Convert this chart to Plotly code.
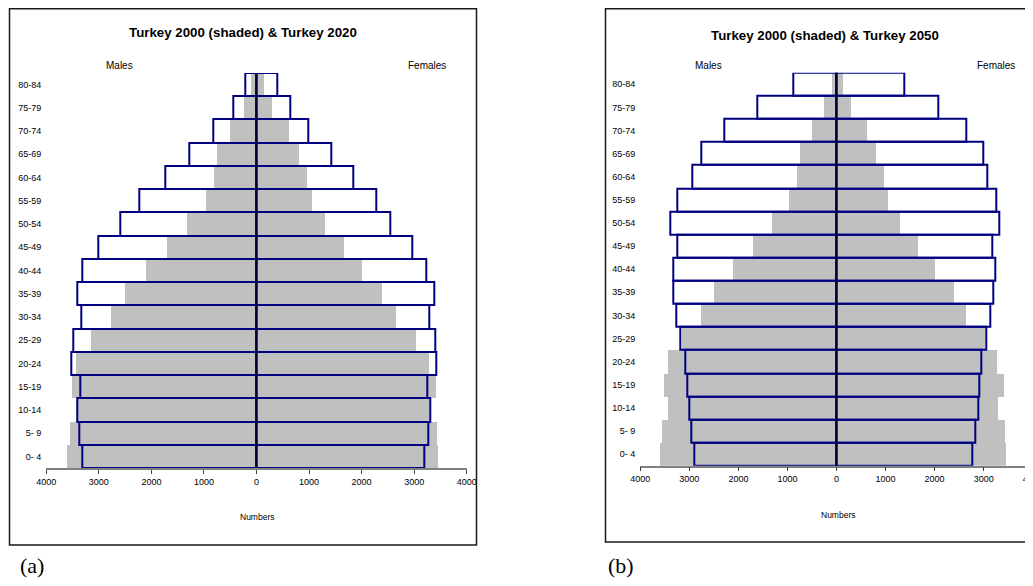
import plotly.graph_objects as go

W, H = 1033, 586
OFF = 8  # page body margin shifts the figure by this many pixels

age_groups = ["0- 4", "5- 9", "10-14", "15-19", "20-24", "25-29", "30-34", "35-39",
              "40-44", "45-49", "50-54", "55-59", "60-64", "65-69", "70-74", "75-79", "80-84"]

males_2000 = [3593, 3552, 3430, 3512, 3425, 3148, 2756, 2497, 2103, 1703, 1316, 960, 805, 745, 500, 240, 90]
females_2000 = [3460, 3440, 3305, 3422, 3285, 3036, 2655, 2400, 2008, 1663, 1310, 1063, 965, 805, 620, 305, 145]

males_2020 = [3308, 3378, 3413, 3356, 3530, 3492, 3340, 3416, 3308, 3016, 2584, 2235, 1740, 1270, 813, 450, 210]
females_2020 = [3188, 3271, 3309, 3257, 3429, 3404, 3290, 3379, 3232, 2966, 2553, 2274, 1836, 1423, 991, 642, 388]

males_2050 = [2893, 2961, 3008, 3035, 3075, 3177, 3266, 3320, 3327, 3252, 3381, 3238, 2947, 2757, 2295, 1617, 890]
females_2050 = [2762, 2823, 2884, 2904, 2945, 3055, 3143, 3204, 3238, 3170, 3326, 3265, 3068, 3000, 2648, 2084, 1377]

tick_vals = [-4000, -3000, -2000, -1000, 0, 1000, 2000, 3000, 4000]
tick_text = ["4000", "3000", "2000", "1000", "0", "1000", "2000", "3000", "4000"]

titles = ["Turkey 2000 (shaded) & Turkey 2020", "Turkey 2000 (shaded) & Turkey 2050"]
panel_labels = ["(a)", "(b)"]

SANS = "Liberation Sans, Arial, sans-serif"
GREY = "#C0C0C0"
NAVY = "#000080"

fig = go.Figure()


def px(x):
    return (x - OFF) / W


def py(y):
    return 1 - (y - OFF) / H


panels = [
    dict(proj_m=males_2020, proj_f=females_2020, xa="x", ya="y",
         xdom=(46.3, 466.7), ydom=(73, 468), frame=(9.5, 8.8, 476.5, 545),
         title_xy=(243, 33), males_xy=(119, 65), females_xy=(427, 65),
         numbers_xy=(257, 517), lab_xy=(32, 565)),
    dict(proj_m=males_2050, proj_f=females_2050, xa="x2", ya="y2",
         xdom=(640.3, 1032.7), ydom=(72.7, 465.7), frame=(605.5, 8.8, 1050, 542),
         title_xy=(825, 35), males_xy=(708, 65), females_xy=(996, 65),
         numbers_xy=(838, 515), lab_xy=(621, 565)),
]

shapes = []
annotations = []

for i, p in enumerate(panels):
    xa, ya = p["xa"], p["ya"]
    # shaded 2000
    fig.add_trace(go.Bar(y=age_groups, x=[-v for v in males_2000], orientation="h",
                         marker=dict(color=GREY, line=dict(width=0)), width=1,
                         xaxis=xa, yaxis=ya, showlegend=False, hoverinfo="skip"))
    fig.add_trace(go.Bar(y=age_groups, x=females_2000, orientation="h",
                         marker=dict(color=GREY, line=dict(width=0)), width=1,
                         xaxis=xa, yaxis=ya, showlegend=False, hoverinfo="skip"))
    # outlined projection
    fig.add_trace(go.Bar(y=age_groups, x=[-v for v in p["proj_m"]], orientation="h",
                         marker=dict(color="rgba(0,0,0,0)", line=dict(color=NAVY, width=2)), width=1,
                         xaxis=xa, yaxis=ya, showlegend=False, hoverinfo="skip"))
    fig.add_trace(go.Bar(y=age_groups, x=p["proj_f"], orientation="h",
                         marker=dict(color="rgba(0,0,0,0)", line=dict(color=NAVY, width=2)), width=1,
                         xaxis=xa, yaxis=ya, showlegend=False, hoverinfo="skip"))

    x0, x1 = p["xdom"]
    y0, y1 = p["ydom"]
    axis_x = dict(domain=[max(0, px(x0)), min(1, px(x1))], range=[-4000, 4000], anchor=ya,
                  tickvals=tick_vals, ticktext=tick_text, showgrid=False, zeroline=False,
                  showline=True, linecolor="#808080", linewidth=1.5,
                  ticks="outside", ticklen=4, tickcolor="#404040", tickwidth=1,
                  automargin=False, ticklabeloverflow="allow",
                  tickfont=dict(family=SANS, size=9, color="#000"), fixedrange=True)
    axis_y = dict(domain=[py(y1), py(y0)], range=[-0.5, 16.5], anchor=xa,
                  type="category", categoryorder="array", categoryarray=age_groups,
                  showgrid=False, zeroline=False, showline=False, ticks="",
                  ticklabelstandoff=4, automargin=False,
                  tickfont=dict(family=SANS, size=9, color="#000"), fixedrange=True)
    if i == 0:
        fig.update_layout(xaxis=axis_x, yaxis=axis_y)
    else:
        fig.update_layout(xaxis2=axis_x, yaxis2=axis_y)

    # zero line above bars
    shapes.append(dict(type="line", xref=xa, yref=f"{ya} domain", x0=0, x1=0, y0=0, y1=1,
                       line=dict(color="#000033", width=2), layer="above"))
    # frame
    fx0, fy0, fx1, fy1 = p["frame"]
    shapes.append(dict(type="rect", xref="paper", yref="paper",
                       x0=px(fx0), x1=px(fx1), y0=py(fy1), y1=py(fy0),
                       line=dict(color="#1a1a1a", width=1.5), layer="below"))

    annotations.append(dict(text=f"<b>{titles[i]}</b>", xref="paper", yref="paper",
                            x=px(p["title_xy"][0]), y=py(p["title_xy"][1]),
                            xanchor="center", yanchor="middle", showarrow=False,
                            font=dict(family=SANS, size=13.3, color="#000")))
    annotations.append(dict(text="Males", xref="paper", yref="paper",
                            x=px(p["males_xy"][0]), y=py(p["males_xy"][1]),
                            xanchor="center", yanchor="middle", showarrow=False,
                            font=dict(family=SANS, size=10, color="#000")))
    annotations.append(dict(text="Females", xref="paper", yref="paper",
                            x=px(p["females_xy"][0]), y=py(p["females_xy"][1]),
                            xanchor="center", yanchor="middle", showarrow=False,
                            font=dict(family=SANS, size=10, color="#000")))
    annotations.append(dict(text="Numbers", xref="paper", yref="paper",
                            x=px(p["numbers_xy"][0]), y=py(p["numbers_xy"][1]),
                            xanchor="center", yanchor="middle", showarrow=False,
                            font=dict(family=SANS, size=8.5, color="#000")))
    annotations.append(dict(text=panel_labels[i], xref="paper", yref="paper",
                            x=px(p["lab_xy"][0]), y=py(p["lab_xy"][1]),
                            xanchor="center", yanchor="middle", showarrow=False,
                            font=dict(family="Liberation Serif, Times New Roman, serif", size=22, color="#000")))

fig.update_layout(
    template="none",
    width=W, height=H, autosize=False,
    margin=dict(l=0, r=0, t=0, b=0, pad=0),
    paper_bgcolor="white", plot_bgcolor="white",
    barmode="overlay", bargap=0,
    shapes=shapes, annotations=annotations,
    showlegend=False,
)

fig.write_html("out.html", config={"displayModeBar": False})
